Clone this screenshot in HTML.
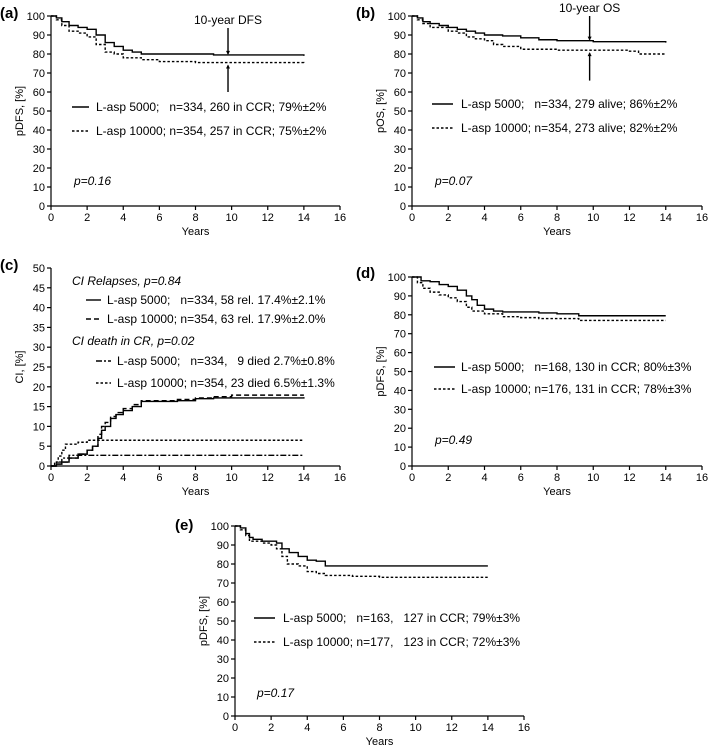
<!DOCTYPE html>
<html><head><meta charset="utf-8">
<style>
html,body{margin:0;padding:0;background:#fff;}
svg{display:block;font-family:"Liberation Sans",Arial,sans-serif;}
text{white-space:pre;}
</style></head>
<body>
<svg id="fig" width="708" height="745" viewBox="0 0 708 745" xmlns="http://www.w3.org/2000/svg"></svg>
<script>
// ---- data ----
const aSolidT=[0,0.3,0.6,1,1.5,2,2.5,3,3.5,4,4.5,5,7,9,14];
const aSolidV=[100,99,97,95,94,93,90,86,84,82,81,80,80,79.5,79];
const aDotT=[0,0.3,0.6,1,1.5,2,2.5,3,3.5,4,5,6,8,14];
const aDotV=[100,98,95,92,91,89,85,81,80,78,77,76,75.5,75];
const bSolidT=[0,0.3,0.6,1,1.5,2,2.5,3,3.5,4,5,6,7,8,10,14];
const bSolidV=[100,99,97,96,95,94,93,92,91,90,89.5,88.5,87.5,87,86.5,86];
const bDotT=[0,0.3,0.6,1,2,2.5,3,3.5,4,4.5,5,6,8,12,12.5,14];
const bDotV=[100,98,96,94,92,91,89,88,87,85,84,82.5,82,81.5,80,80];
const cRelSolidT=[0,0.3,0.6,1,1.5,2,2.3,2.6,2.8,3,3.3,3.6,4,4.5,5,6,7,8,9,14];
const cRelSolidV=[0,0.5,1,2,3,4,5,7,9,10,12,13,14,15,16.3,16.3,16.5,17,17.2,17.4];
const cRelDashT=[0,0.3,0.6,1,1.5,2,2.3,2.6,2.8,3,3.3,3.6,4,4.5,5,6,7,8,9,10,14];
const cRelDashV=[0,0.5,1,2,3,4,5,8,10,11,12.5,13.5,14.5,15.5,16.5,16.5,16.8,17.2,17.5,17.9,17.9];
const cDeathDashDotT=[0,0.3,0.6,1,14];
const cDeathDashDotV=[0,1,2,2.7,2.7];
const cDeathDotT=[0,0.2,0.4,0.6,0.8,1.5,2,14];
const cDeathDotV=[0,1,2.5,4,5.5,6,6.5,6.5];
const dSolidT=[0,0.5,1,1.5,2,2.5,3,3.3,3.6,4,4.5,5,7,8,9.2,14];
const dSolidV=[100,98,97.5,96,95,93,90,88,85,83,82,81.5,81,80.5,79.5,79.5];
const dDotT=[0,0.3,0.6,1,1.5,2,2.5,3,3.3,4,5,6,7,9.2,14];
const dDotV=[100,97,94,92,90.5,89,87,84,82,80.5,79,78.5,78,77,77];
const eSolidT=[0,0.3,0.6,0.8,1,1.5,2,2.3,2.6,3,3.5,4,4.5,5,14];
const eSolidV=[100,99,96,94,93,92,92,91,88,86,84,82,81.5,79,79];
const eDotT=[0,0.3,0.6,0.8,1.5,2,2.3,2.6,2.9,3.5,4,4.5,5,6.5,8,14];
const eDotV=[100,98,95,92,91,90,88,84,80,79,76,75,74,73.5,73,72.5];
const xTicks=[0,2,4,6,8,10,12,14,16];
const yTicks100=[0,10,20,30,40,50,60,70,80,90,100];
const yTicks50=[0,5,10,15,20,25,30,35,40,45,50];

const NS="http://www.w3.org/2000/svg";
const svg=document.getElementById('fig');
function mk(tag,attrs,parent,txt){const e=document.createElementNS(NS,tag);for(const k in attrs)e.setAttribute(k,attrs[k]);if(txt!==undefined)e.textContent=txt;(parent||svg).appendChild(e);return e;}
const DASH={solid:null,dot:"2.5,2",dash:"5,3",dashdot:"6,2,2,2"};

function panel(p){
  const g=mk('g',{});
  
  
  const X=t=>p.x0+(p.x16-p.x0)*t/16;
  const Y=v=>p.y0-(p.y0-p.yTop)*v/p.yMax;
  const lab=mk('text',{x:p.lx,y:p.ly,'font-size':15,'font-weight':'bold'},g,'('+p.id+')');
  
  const ax=mk('g',{stroke:'#000','stroke-width':1.2},g);
  
  mk('line',{x1:p.x0,y1:p.y0,x2:p.x16,y2:p.y0},ax);
  mk('line',{x1:p.x0,y1:p.y0,x2:p.x0,y2:p.yTop},ax);
  xTicks.forEach(t=>{mk('line',{x1:X(t),y1:p.y0,x2:X(t),y2:p.y0+4},ax);
    const tx=mk('text',{x:X(t),y:p.y0+15,'font-size':11,'text-anchor':'middle',stroke:'none'},g,t);
    });
  p.yTicks.forEach(v=>{mk('line',{x1:p.x0-4,y1:Y(v),x2:p.x0,y2:Y(v)},ax);
    const ty=mk('text',{x:p.x0-6,y:Y(v)+4,'font-size':11,'text-anchor':'end'},g,v);
    });
  const xt=mk('text',{x:(p.x0+p.x16)/2,y:p.y0+29,'font-size':11,'text-anchor':'middle'},g,'Years');
  
  const yc=(p.y0+p.yTop)/2, yx=p.x0-28;
  const yt=mk('text',{x:yx,y:yc,'font-size':11,'text-anchor':'middle',transform:`rotate(-90 ${yx} ${yc})`},g,p.ytitle);
  
  p.series.forEach(s=>{
    let d=`M${X(s.t[0])},${Y(s.v[0])}`;
    for(let i=1;i<s.t.length;i++){d+=`H${X(s.t[i])}V${Y(s.v[i])}`;}
    const a={d:d,fill:'none',stroke:'#000','stroke-width':s.w||1.4};
    if(DASH[s.style])a['stroke-dasharray']=DASH[s.style];
    const path=mk('path',a,g);
    
    
  });
  p.legend.forEach(l=>{
    const le=mk('g',{},g);
    
    if(l.style){const a={x1:l.x1,y1:l.y-4,x2:l.x2,y2:l.y-4,stroke:'#000','stroke-width':1.4};
      if(DASH[l.style])a['stroke-dasharray']=DASH[l.style];mk('line',a,le);}
    mk('text',{x:l.tx,y:l.y,'font-size':12,'font-style':l.italic?'italic':'normal',style:'white-space:pre'},le,l.text);
  });
  if(p.arrow){const A=p.arrow,ag=mk('g',{},g);
    
    mk('text',{x:X(A.t),y:A.ty,'font-size':12,'text-anchor':'middle'},ag,A.label);
    mk('line',{x1:X(A.t),y1:A.top,x2:X(A.t),y2:Y(A.v1)-2,stroke:'#000','stroke-width':1.4},ag);
    mk('path',{d:`M${X(A.t)-2},${Y(A.v1)-5}L${X(A.t)+2},${Y(A.v1)-5}L${X(A.t)},${Y(A.v1)-1}Z`},ag);
    mk('line',{x1:X(A.t),y1:Y(A.low),x2:X(A.t),y2:Y(A.v2)+2,stroke:'#000','stroke-width':1.4},ag);
    mk('path',{d:`M${X(A.t)-2},${Y(A.v2)+5}L${X(A.t)+2},${Y(A.v2)+5}L${X(A.t)},${Y(A.v2)+1}Z`},ag);
  }
}

panel({id:'a',x0:51,x16:340,y0:206,yTop:16,yMax:100,yTicks:yTicks100,lx:0,ly:18,ytitle:'pDFS, [%]',
  series:[{t:aSolidT,v:aSolidV,style:'solid',name:'series-l-asp-5000'},{t:aDotT,v:aDotV,style:'dot',name:'series-l-asp-10000'}],
  legend:[{x1:72,x2:89,y:111,tx:96,style:'solid',text:'L-asp 5000;   n=334, 260 in CCR; 79%±2%'},
          {x1:72,x2:89,y:135,tx:96,style:'dot',text:'L-asp 10000; n=354, 257 in CCR; 75%±2%'},
          {tx:74,y:185,italic:true,text:'p=0.16'}],
  arrow:{t:9.8,label:'10-year DFS',ty:24,top:28,v1:79,v2:75,low:60}});
panel({id:'b',x0:412,x16:702,y0:206,yTop:16,yMax:100,yTicks:yTicks100,lx:356,ly:18,ytitle:'pOS, [%]',
  series:[{t:bSolidT,v:bSolidV,style:'solid',name:'series-l-asp-5000'},{t:bDotT,v:bDotV,style:'dot',name:'series-l-asp-10000'}],
  legend:[{x1:432,x2:453,y:108,tx:461,style:'solid',text:'L-asp 5000;   n=334, 279 alive; 86%±2%'},
          {x1:432,x2:453,y:132,tx:461,style:'dot',text:'L-asp 10000; n=354, 273 alive; 82%±2%'},
          {tx:435,y:185,italic:true,text:'p=0.07'}],
  arrow:{t:9.8,label:'10-year OS',ty:12,top:16,v1:86.5,v2:81.5,low:66}});
panel({id:'c',x0:51,x16:340,y0:466,yTop:268,yMax:50,yTicks:yTicks50,lx:0,ly:270,ytitle:'CI, [%]',
  series:[{t:cRelSolidT,v:cRelSolidV,style:'solid',name:'series-relapse-5000'},{t:cRelDashT,v:cRelDashV,style:'dash',name:'series-relapse-10000'},
          {t:cDeathDashDotT,v:cDeathDashDotV,style:'dashdot',name:'series-death-5000'},{t:cDeathDotT,v:cDeathDotV,style:'dot',name:'series-death-10000'}],
  legend:[{tx:72,y:285,italic:true,text:'CI Relapses, p=0.84'},
          {x1:86,x2:101,y:304,tx:107,style:'solid',text:'L-asp 5000;   n=334, 58 rel. 17.4%±2.1%'},
          {x1:86,x2:101,y:323,tx:107,style:'dash',text:'L-asp 10000; n=354, 63 rel. 17.9%±2.0%'},
          {tx:72,y:345,italic:true,text:'CI death in CR, p=0.02'},
          {x1:96,x2:111,y:365,tx:117,style:'dashdot',text:'L-asp 5000;   n=334,   9 died 2.7%±0.8%'},
          {x1:96,x2:111,y:387,tx:117,style:'dot',text:'L-asp 10000; n=354, 23 died 6.5%±1.3%'}]});
panel({id:'d',x0:412,x16:702,y0:466,yTop:277,yMax:100,yTicks:yTicks100,lx:356,ly:278,ytitle:'pDFS, [%]',
  series:[{t:dSolidT,v:dSolidV,style:'solid',name:'series-l-asp-5000'},{t:dDotT,v:dDotV,style:'dot',name:'series-l-asp-10000'}],
  legend:[{x1:434,x2:455,y:371,tx:461,style:'solid',text:'L-asp 5000;   n=168, 130 in CCR; 80%±3%'},
          {x1:434,x2:455,y:393,tx:461,style:'dot',text:'L-asp 10000; n=176, 131 in CCR; 78%±3%'},
          {tx:435,y:444,italic:true,text:'p=0.49'}]});
panel({id:'e',x0:235,x16:524,y0:716,yTop:526,yMax:100,yTicks:yTicks100,lx:175,ly:530,ytitle:'pDFS, [%]',
  series:[{t:eSolidT,v:eSolidV,style:'solid',name:'series-l-asp-5000'},{t:eDotT,v:eDotV,style:'dot',name:'series-l-asp-10000'}],
  legend:[{x1:254,x2:275,y:622,tx:283,style:'solid',text:'L-asp 5000;   n=163,   127 in CCR; 79%±3%'},
          {x1:254,x2:275,y:646,tx:283,style:'dot',text:'L-asp 10000; n=177,   123 in CCR; 72%±3%'},
          {tx:257,y:697,italic:true,text:'p=0.17'}]});
</script>
</body></html>
